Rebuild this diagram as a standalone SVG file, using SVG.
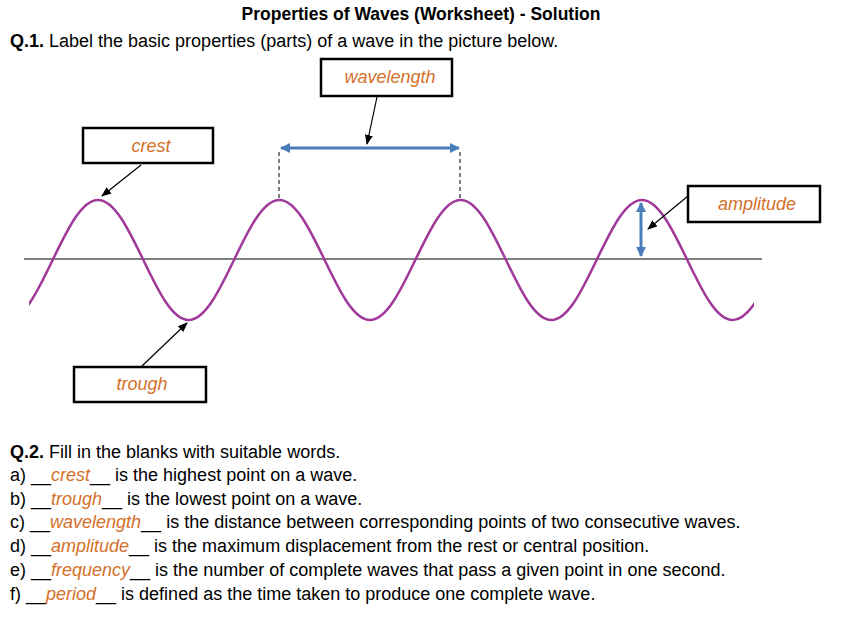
<svg xmlns="http://www.w3.org/2000/svg" width="862" height="624" viewBox="0 0 862 624">
<style>
text{font-family:"Liberation Sans",Arial,sans-serif;font-size:18px;fill:#000}
.o{fill:#d4702a;font-style:italic}
.b{font-weight:bold}
.box{fill:#fff;stroke:#000;stroke-width:2.5}
.ptr{stroke:#000;stroke-width:1.2;fill:none;marker-end:url(#ah)}
.blue{stroke:#4a7ebb;stroke-width:3;fill:none;marker-start:url(#bh);marker-end:url(#bh)}
</style>
<defs>
<marker id="ah" markerWidth="10" markerHeight="8" refX="9" refY="4" orient="auto" markerUnits="userSpaceOnUse"><path d="M0,0L10,4L0,8z" fill="#000"/></marker>
<marker id="bh" markerWidth="10" markerHeight="10" refX="9" refY="5" orient="auto-start-reverse" markerUnits="userSpaceOnUse"><path d="M0,0L10,5L0,10z" fill="#4a7ebb"/></marker>
<clipPath id="cl"><rect x="29" y="150" width="725" height="200"/></clipPath>
</defs>
<rect width="862" height="624" fill="#fff"/>
<text x="421" y="20" text-anchor="middle" class="b" style="font-size:17.5px">Properties of Waves (Worksheet) - Solution</text>
<text x="10" y="47"><tspan class="b">Q.1.</tspan> Label the basic properties (parts) of a wave in the picture below.</text>
<g id="wave">
<line x1="24" y1="259" x2="762" y2="259" stroke="#000" stroke-width="1.2"/>
<path clip-path="url(#cl)" fill="none" stroke="#a0399a" stroke-width="2.5" d="M7.35,320 C23.75,320 37.9,290.74 52.68,260 C67.46,229.26 81.61,200 98,200 C114.4,200 128.55,229.26 143.33,260 C158.11,290.74 172.26,320 188.66,320 C205.06,320 219.21,290.74 233.99,260 C248.77,229.26 262.92,200 279.32,200 C295.72,200 309.87,229.26 324.65,260 C339.43,290.74 353.58,320 369.98,320 C386.38,320 400.53,290.74 415.31,260 C430.09,229.26 444.24,200 460.64,200 C477.04,200 491.19,229.26 505.97,260 C520.75,290.74 534.9,320 551.3,320 C567.7,320 581.85,290.74 596.63,260 C611.41,229.26 625.56,200 641.96,200 C658.36,200 672.51,229.26 687.29,260 C702.07,290.74 716.22,320 732.62,320 C749.02,320 763.17,290.74 777.95,260"/>
</g>
<g id="connectors">
<line x1="279" y1="152" x2="279" y2="198" stroke="#000" stroke-dasharray="4,3"/>
<line x1="460" y1="152" x2="460" y2="198" stroke="#000" stroke-dasharray="4,3"/>
<line class="blue" x1="281" y1="148" x2="459" y2="148"/>
<line class="blue" x1="641" y1="203" x2="641" y2="256"/>
<line class="ptr" x1="377" y1="97" x2="367" y2="144"/>
<line class="ptr" x1="141" y1="165" x2="102" y2="196"/>
<line class="ptr" x1="142" y1="366" x2="187" y2="323"/>
<line class="ptr" x1="688" y1="196" x2="648" y2="229"/>
</g>
<g id="n-wavelength"><rect class="box" x="321" y="59" width="131" height="37"/><text class="o" x="390" y="83" text-anchor="middle">wavelength</text></g>
<g id="n-crest"><rect class="box" x="83" y="128" width="130" height="35"/><text class="o" x="151" y="152" text-anchor="middle">crest</text></g>
<g id="n-trough"><rect class="box" x="74" y="367" width="132" height="35"/><text class="o" x="142" y="390" text-anchor="middle">trough</text></g>
<g id="n-amplitude"><rect class="box" x="688" y="186" width="132" height="36"/><text class="o" x="757" y="210" text-anchor="middle">amplitude</text></g>
<g id="q2">
<text x="10" y="458"><tspan class="b">Q.2.</tspan> Fill in the blanks with suitable words.</text>
<text x="10" y="481">a) __<tspan class="o">crest</tspan>__ is the highest point on a wave.</text>
<text x="10" y="505">b) __<tspan class="o">trough</tspan>__ is the lowest point on a wave.</text>
<text x="10" y="528">c) __<tspan class="o">wavelength</tspan>__ is the distance between corresponding points of two consecutive waves.</text>
<text x="10" y="552">d) __<tspan class="o">amplitude</tspan>__ is the maximum displacement from the rest or central position.</text>
<text x="10" y="576">e) __<tspan class="o">frequency</tspan>__ is the number of complete waves that pass a given point in one second.</text>
<text x="10" y="600">f) __<tspan class="o">period</tspan>__ is defined as the time taken to produce one complete wave.</text>
</g>
</svg>
